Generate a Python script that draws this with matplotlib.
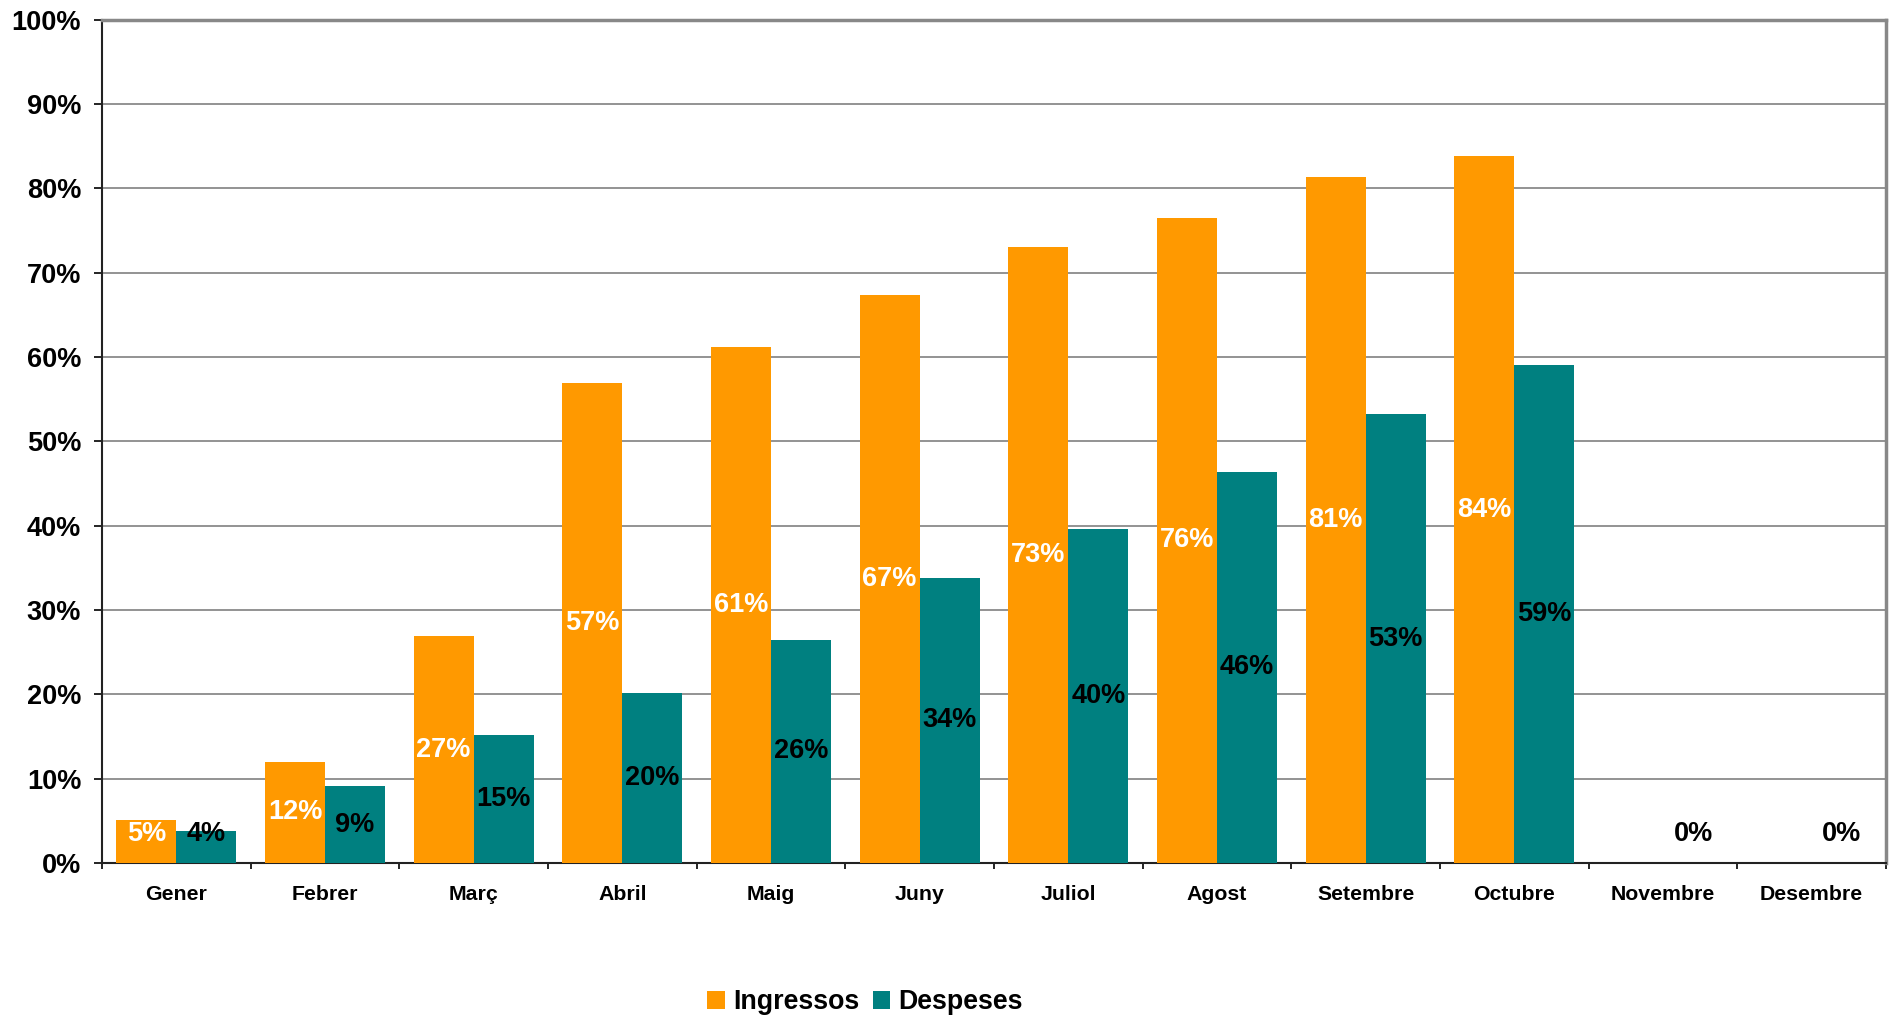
import matplotlib
matplotlib.use("Agg")
import matplotlib.pyplot as plt
import numpy as np

mesos = ["Gener", "Febrer", "Març", "Abril", "Maig", "Juny", "Juliol",
         "Agost", "Setembre", "Octubre", "Novembre", "Desembre"]
ingressos = [5.1, 12.0, 26.9, 56.9, 61.2, 67.4, 73.0, 76.5, 81.3, 83.8, 0, 0]
despeses = [3.8, 9.1, 15.2, 20.2, 26.5, 33.8, 39.6, 46.4, 53.2, 59.1, 0, 0]

color_ingressos = "#FF9900"
color_despeses = "#008080"

plt.rcParams['font.family'] = ['Liberation Sans', 'DejaVu Sans']
plt.rcParams['font.weight'] = 'bold'

fig = plt.figure(figsize=(18.9, 10.19), dpi=100)
ax = fig.add_axes([102 / 1890, 1 - 863 / 1019, (1886 - 102) / 1890, (863 - 19.7) / 1019])

x = np.arange(len(mesos))
w = 0.404
b1 = ax.bar(x - w / 2, ingressos, w, color=color_ingressos, label="Ingressos", zorder=3)
b2 = ax.bar(x + w / 2, despeses, w, color=color_despeses, label="Despeses", zorder=3)

# etiquetes centrades dins de cada barra
for xi, v in zip(x, ingressos):
    ax.text(xi - w / 2, max(v / 2, 3.4), f"{round(v):.0f}%", ha="center", va="center",
            color="white", fontsize=19.5, fontweight="bold", zorder=4)
for xi, v in zip(x, despeses):
    ax.text(xi + w / 2, max(v / 2, 3.4), f"{round(v):.0f}%", ha="center", va="center",
            color="black", fontsize=19.5, fontweight="bold", zorder=4)

ax.set_xlim(-0.5, len(mesos) - 0.5)
ax.set_ylim(0, 100)
ax.set_yticks(np.arange(0, 101, 10))
ax.set_yticklabels([f"{t}%" for t in range(0, 101, 10)])
ax.yaxis.grid(True, color="#808080", linewidth=1.2, zorder=0)
ax.tick_params(axis="y", labelsize=19.5, length=6, width=1.2, pad=9)

ax.set_xticks(np.arange(-0.5, len(mesos), 1))
ax.set_xticklabels([])
ax.set_xticks(x, minor=True)
ax.set_xticklabels(mesos, minor=True)
ax.tick_params(axis="x", which="major", length=4, width=1.2, direction="out")
ax.tick_params(axis="x", which="minor", length=0, labelsize=15.3, pad=16)

for s in ["left", "bottom"]:
    ax.spines[s].set_color("#222222")
    ax.spines[s].set_linewidth(1.5)
for s in ["top", "right"]:
    ax.spines[s].set_color("#888888")
    ax.spines[s].set_linewidth(2.5)

fig.legend(handles=[b1, b2], loc="center", bbox_to_anchor=(865 / 1890, 1 - 1002 / 1019),
           ncol=2, frameon=False, fontsize=19.3, handlelength=0.65, handleheight=0.65,
           handletextpad=0.3, columnspacing=0.5, borderaxespad=0)

fig.savefig("out.png", dpi=100)
